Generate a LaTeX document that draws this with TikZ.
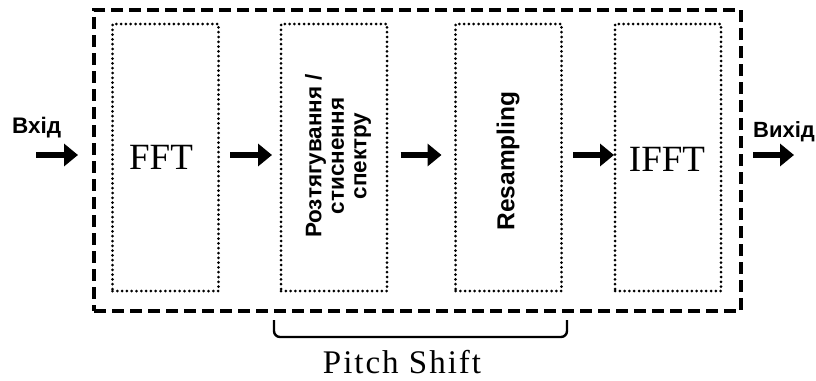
\documentclass[tikz,border=0pt]{standalone}
\usepackage{fontspec}
\setmainfont{Liberation Serif}
\setsansfont{Liberation Sans}
\newfontfamily\psfont[LetterSpace=6]{Liberation Serif}
\usetikzlibrary{arrows.meta}
\begin{document}
\begin{tikzpicture}[x=1pt,y=-1pt,
  outerbox/.style={draw, line width=3.3pt, dash pattern=on 12pt off 6pt},
  stagebox/.style={draw, line width=3pt, dash pattern=on 0pt off 4.8pt, line cap=round, minimum width=106pt, minimum height=267pt, inner sep=0pt},
  flow/.style={line width=5.5pt, -{Triangle[length=14pt,width=22pt]}},
  serifl/.style={font=\fontsize{37}{40}\selectfont},
  sansl/.style={font=\sffamily\bfseries\fontsize{22}{24}\selectfont}]
\useasboundingbox (0,0) rectangle (816,380);
\node[outerbox, minimum width=647pt, minimum height=301pt, inner sep=0pt] (outer) at (417.5,160.5) {};
\node[stagebox] (fft) at (165.5,157.5) {};
\node[stagebox] (spec) at (334,157.5) {};
\node[stagebox] (res) at (508.5,157.5) {};
\node[stagebox] (ifft) at (668,157.5) {};
\node[serifl, inner sep=0pt] (fftt) at (161,157) {FFT};
\node[serifl, inner sep=0pt] (ifftt) at (667,159) {IFFT};
\node[rotate=90, font=\sffamily\bfseries\fontsize{22.5}{22.5}\selectfont, align=center, inner sep=0pt] (spect) at (338,156) {Розтягування /\\стиснення\\спектру};
\node[rotate=90, font=\sffamily\bfseries\fontsize{24.5}{26}\selectfont, inner sep=0pt] (rest) at (508,161) {Resampling};
\node[sansl, font=\sffamily\bfseries\fontsize{22.5}{24}\selectfont, anchor=base west, inner sep=0pt] (inl) at (12,133) {Вхід};
\node[sansl, anchor=base west, inner sep=0pt] (outl) at (753,137) {Вихід};
\coordinate (in0) at (36,155);
\coordinate (in1) at (78,155);
\coordinate (out0) at (753,155);
\coordinate (out1) at (794,155);
\draw[flow] (in0) -- (in1);
\draw[flow] (fft.east) ++(10,-2.5) -- ++(42,0);
\draw[flow] (spec.east) ++(12,-2.5) -- ++(41,0);
\draw[flow] (res.east) ++(10,-2.5) -- ++(41,0);
\draw[flow] (out0) -- (out1);
\coordinate (b0) at (274,320);
\coordinate (b1) at (567,320);
\draw[line width=2.4pt, rounded corners=6pt] (b0) -- ++(0,17) -- ++(293,0) -- (b1);
\node[font=\psfont\fontsize{33}{34}\selectfont, anchor=base, inner sep=0pt] (ps) at (402,373) {Pitch Shift};
\end{tikzpicture}
\end{document}
